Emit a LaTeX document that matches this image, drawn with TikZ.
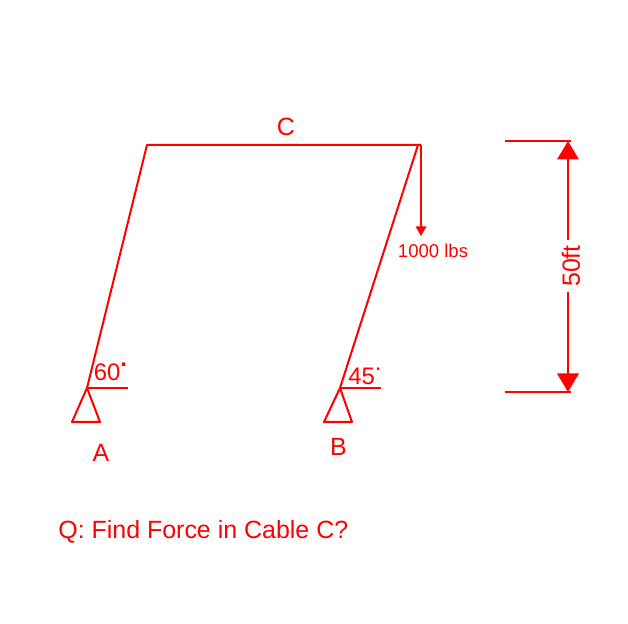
\documentclass[tikz,border=0pt]{standalone}
\usepackage{fontspec}
\setmainfont{Liberation Sans}
\usetikzlibrary{arrows.meta}
\definecolor{cablered}{RGB}{255,0,0}
\tikzstyle{cable} = [draw=cablered, line width=1.15pt, line join=round]
\tikzstyle{thin cable} = [draw=cablered, line width=0.9pt]
\tikzstyle{label} = [text=cablered, font=\fontsize{14.2}{16}\selectfont, inner sep=0pt]
\tikzstyle{angle label} = [text=cablered, font=\fontsize{13.6}{16}\selectfont, inner sep=0pt, anchor=west]
\tikzstyle{small label} = [text=cablered, font=\fontsize{10.55}{12}\selectfont, inner sep=0pt]

\begin{document}
\begin{tikzpicture}

        \useasboundingbox (0,0) rectangle (12.56,12.48);

        \coordinate (pinA) at (1.74,4.72);
        \coordinate (pinB) at (6.80,4.72);
        \coordinate (topleft) at (2.94,9.58);
        \coordinate (topright) at (8.36,9.58);
        \coordinate (flatA) at (2.56,4.72);
        \coordinate (flatB) at (7.62,4.72);
        \coordinate (leftA) at (1.44,4.04);
        \coordinate (rightA) at (2.00,4.04);
        \coordinate (leftB) at (6.48,4.04);
        \coordinate (rightB) at (7.04,4.04);
        \coordinate (loadtop) at (8.42,9.58);
        \coordinate (loadend) at (8.42,7.76);
        \coordinate (dimtopL) at (10.10,9.66);
        \coordinate (dimtopR) at (11.42,9.66);
        \coordinate (dimbotL) at (10.10,4.64);
        \coordinate (dimbotR) at (11.42,4.64);
        \coordinate (dimtop) at (11.36,9.66);
        \coordinate (dimbot) at (11.36,4.64);

        \node (labelC) [label] at (5.72,9.94) {C};
        \node (labelA) [label] at (2.02,3.42) {A};
        \node (labelB) [label] at (6.77,3.54) {B};
        \node (angleA) [angle label] at (1.87,5.05) {60\raisebox{1.1ex}{\textbf{.}}};
        \node (angleB) [angle label] at (6.96,4.96) {45\raisebox{1.1ex}{.}};
        \node (load) [small label] at (8.66,7.46) {1000 lbs};
        \node (question) [label, anchor=west] at (1.16,1.84) {Q: Find Force in Cable C?};
        \node (height) [label, rotate=90, inner xsep=3pt] at (11.42,7.16) {50ft};

        \draw[cable] (pinA) -- (topleft) -- (loadtop);
        \draw[cable] (topright) -- (pinB);
        \draw[thin cable] (pinA) -- (flatA);
        \draw[thin cable] (pinB) -- (flatB);
        \draw[cable] (pinA) -- (leftA) -- (rightA) -- cycle;
        \draw[cable] (pinB) -- (leftB) -- (rightB) -- cycle;

        \draw[thin cable, -{Triangle[length=1.9mm, width=2.1mm]}, cablered] (loadtop) -- (loadend);

        \draw[cable] (dimtopL) -- (dimtopR);
        \draw[cable] (dimbotL) -- (dimbotR);
        \draw[cable, cablered, -{Triangle[length=3.7mm, width=4.3mm]}] (dimtop |- height.east) -- (dimtop);
        \draw[cable, cablered, -{Triangle[length=3.7mm, width=4.3mm]}] (dimbot |- height.west) -- (dimbot);

    \end{tikzpicture}
\end{document}
